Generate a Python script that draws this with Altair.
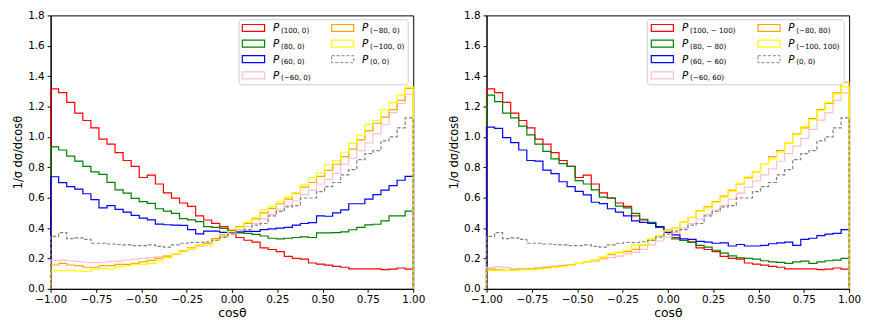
import altair as alt
import pandas as pd
import numpy as np

# ---------------- data (45 bins on cos(theta) in [-1, 1]) ----------------
NB = 45
edges = np.linspace(-1.0, 1.0, NB + 1)

# left panel
red_L = [1.316,1.292,1.228,1.157,1.108,1.060,0.985,0.953,0.897,0.845,0.806,0.733,0.748,0.690,0.632,
         0.597,0.565,0.543,0.480,0.453,0.431,0.410,0.385,0.338,0.320,0.307,0.270,0.259,0.245,0.214,
         0.201,0.196,0.170,0.163,0.156,0.148,0.142,0.131,0.131,0.132,0.132,0.126,0.130,0.137,0.130]
green_L = [0.935,0.914,0.873,0.841,0.806,0.770,0.753,0.701,0.652,0.630,0.596,0.574,0.563,0.527,0.512,
           0.497,0.462,0.454,0.443,0.410,0.404,0.398,0.383,0.368,0.365,0.359,0.348,0.333,0.329,0.333,
           0.338,0.342,0.338,0.368,0.368,0.370,0.375,0.389,0.404,0.421,0.425,0.447,0.480,0.480,0.512]
blue_L = [0.738,0.699,0.673,0.656,0.626,0.587,0.533,0.548,0.523,0.505,0.484,0.465,0.454,0.426,0.422,
          0.420,0.418,0.390,0.362,0.380,0.380,0.372,0.372,0.375,0.378,0.378,0.390,0.395,0.400,0.405,
          0.420,0.430,0.436,0.480,0.478,0.500,0.520,0.560,0.560,0.590,0.620,0.650,0.680,0.715,0.740]
pink_L = [0.187,0.187,0.185,0.180,0.175,0.172,0.175,0.180,0.182,0.190,0.195,0.200,0.205,0.210,0.215,
          0.230,0.245,0.260,0.280,0.300,0.320,0.340,0.365,0.390,0.410,0.430,0.460,0.490,0.520,
          0.550,0.580,0.620,0.650,0.690,0.720,0.760,0.820,0.860,0.910,0.960,1.020,1.080,1.160,1.220,1.280]
orange_L = [0.157,0.168,0.157,0.153,0.142,0.142,0.153,0.153,0.161,0.161,0.168,0.178,0.187,0.200,0.215,
            0.230,0.250,0.270,0.290,0.300,0.330,0.355,0.380,0.410,0.430,0.460,0.500,0.530,0.560,
            0.590,0.630,0.670,0.700,0.740,0.780,0.820,0.870,0.920,0.980,1.040,1.090,1.130,1.180,1.240,1.320]
yellow_L = [0.120,0.120,0.123,0.118,0.115,0.130,0.135,0.129,0.146,0.153,0.161,0.161,0.168,0.187,0.204,
            0.232,0.243,0.265,0.290,0.286,0.318,0.346,0.376,0.404,0.437,0.469,0.518,0.540,0.576,
            0.604,0.634,0.684,0.731,0.763,0.817,0.845,0.899,0.957,1.011,1.082,1.108,1.178,1.226,1.275,1.329]
gray_00 = [0.345,0.370,0.330,0.335,0.325,0.300,0.300,0.295,0.292,0.290,0.285,0.285,0.290,0.280,0.275,
           0.290,0.300,0.305,0.305,0.310,0.320,0.340,0.360,0.380,0.390,0.420,0.430,0.480,0.510,
           0.540,0.548,0.598,0.598,0.640,0.673,0.700,0.750,0.785,0.850,0.890,0.910,0.974,1.000,1.060,1.125]

# right panel
red_R = list(red_L)
green_R = [1.275,1.232,1.157,1.125,1.071,1.013,0.953,0.905,0.856,0.824,0.806,0.712,0.690,0.652,0.604,
           0.598,0.544,0.533,0.497,0.458,0.437,0.404,0.372,0.329,0.318,0.307,0.286,0.275,0.254,
           0.235,0.217,0.204,0.200,0.196,0.185,0.178,0.174,0.168,0.178,0.183,0.168,0.178,0.185,0.189,0.200]
blue_R = [1.065,1.056,0.996,0.963,0.914,0.845,0.841,0.781,0.759,0.705,0.673,0.641,0.619,0.570,0.561,
          0.527,0.505,0.480,0.447,0.437,0.430,0.410,0.372,0.355,0.329,0.325,0.312,0.308,0.300,
          0.303,0.282,0.292,0.282,0.282,0.286,0.297,0.303,0.308,0.286,0.325,0.333,0.350,0.360,0.365,0.390]
pink_R = [0.140,0.145,0.140,0.131,0.135,0.135,0.140,0.145,0.150,0.155,0.160,0.165,0.175,0.180,0.195,
          0.205,0.215,0.230,0.240,0.260,0.290,0.315,0.340,0.370,0.400,0.430,0.460,0.490,0.520,
          0.550,0.590,0.630,0.670,0.710,0.750,0.790,0.840,0.890,0.940,0.990,1.050,1.110,1.160,1.240,1.290]
orange_R = [0.130,0.125,0.122,0.125,0.128,0.130,0.135,0.140,0.145,0.152,0.160,0.168,0.180,0.190,0.205,
            0.225,0.240,0.245,0.260,0.290,0.320,0.350,0.385,0.400,0.440,0.470,0.515,0.540,0.575,
            0.610,0.650,0.690,0.730,0.770,0.820,0.870,0.910,0.960,1.020,1.060,1.120,1.180,1.220,1.290,1.360]
yellow_R = [0.120,0.120,0.120,0.120,0.125,0.125,0.130,0.135,0.142,0.146,0.157,0.168,0.178,0.189,0.210,
            0.232,0.237,0.254,0.290,0.290,0.329,0.350,0.383,0.398,0.437,0.469,0.512,0.533,0.570,
            0.604,0.641,0.695,0.738,0.770,0.819,0.856,0.899,0.963,1.017,1.071,1.114,1.174,1.228,1.282,1.329]

colors = ["#ff0000", "#008000", "#0000ff", "#ffc0cb", "#ffa500", "#ffff00", "#808080"]
left_subs = ["(100, 0)", "(80, 0)", "(60, 0)", "(\u221260, 0)", "(\u221280, 0)", "(\u2212100, 0)", "(0, 0)"]
right_subs = ["(100, \u2212 100)", "(80, \u2212 80)", "(60, \u2212 60)", "(\u221260, 60)",
              "(\u221280, 80)", "(\u2212100, 100)", "(0, 0)"]
left_series = [red_L, green_L, blue_L, pink_L, orange_L, yellow_L, gray_00]
right_series = [red_R, green_R, blue_R, pink_R, orange_R, yellow_R, gray_00]

x_ticks = [-1.0, -0.75, -0.5, -0.25, 0.0, 0.25, 0.5, 0.75, 1.0]
y_ticks = [0.0, 0.2, 0.4, 0.6, 0.8, 1.0, 1.2, 1.4, 1.6, 1.8]

# ---------------- layout ----------------
W, H = 366, 276
YMAX = 1.8
FONT = "DejaVu Sans"

xscale = alt.Scale(domain=[-1, 1], nice=False, zero=False)
yscale = alt.Scale(domain=[0, YMAX], nice=False, zero=False)
xaxis = alt.Axis(values=x_ticks, format=".2f", title="cos\u03b8", labelFlush=False, labelOverlap=False)
yaxis = alt.Axis(values=y_ticks, format=".1f", title="1/\u03c3 d\u03c3/dcos\u03b8", labelFlush=False,
                 labelOverlap=False)


def X(f):
    return alt.X(f, type="quantitative", scale=xscale, axis=xaxis)


def Y(f):
    return alt.Y(f, type="quantitative", scale=yscale, axis=yaxis)


def px2x(px):
    return -1.0 + 2.0 * px / W


def py2y(py):
    return YMAX * (1.0 - py / H)


def step_df(vals):
    rows = [{"x": float(edges[0]), "y": 0.0, "o": 0}]
    for i, v in enumerate(vals):
        rows.append({"x": float(edges[i]), "y": v, "o": i + 1})
    rows.append({"x": float(edges[-1]), "y": vals[-1], "o": NB + 1})
    rows.append({"x": float(edges[-1]), "y": 0.0, "o": NB + 2})
    return pd.DataFrame(rows)


def panel(series, subs, box_px, h1_px, t1_px, h2_px, t2_px):
    layers = []
    for k, vals in enumerate(series):
        kw = dict(color=colors[k], strokeWidth=1.2, interpolate="step-after")
        if k == 6:
            kw["strokeDash"] = [3.5, 2]
        layers.append(
            alt.Chart(step_df(vals)).mark_line(**kw).encode(x=X("x"), y=Y("y"), order="o:Q")
        )
    # legend (positions given in plot pixels, converted to data units)
    bx0, bx1, by0, by1 = box_px
    box = pd.DataFrame([{"x": px2x(bx0), "x2": px2x(bx1), "y": py2y(by0), "y2": py2y(by1)}])
    layers.append(
        alt.Chart(box).mark_rect(cornerRadius=3, fill="white", fillOpacity=0.85,
                                 stroke="#cccccc", strokeWidth=1)
        .encode(x=X("x"), x2="x2", y=Y("y"), y2="y2")
    )
    row_c = [12.7, 28.5, 44.2, 60.5]
    slots = [(0, 0), (0, 1), (0, 2), (0, 3), (1, 0), (1, 1), (1, 2)]
    hrows, trows = [], []
    for k, (c, r) in enumerate(slots):
        hx = h1_px if c == 0 else h2_px
        tx = t1_px if c == 0 else t2_px
        yc = row_c[r]
        hrows.append({"x": px2x(hx[0]), "x2": px2x(hx[1]), "y": py2y(yc - 3.5), "y2": py2y(yc + 3.5),
                      "color": colors[k], "dash": k == 6})
        trows.append({"x": px2x(tx), "y": py2y(yc + 0.5), "xs": px2x(tx + 8.0), "ys": py2y(yc + 3.0),
                      "sub": subs[k]})
    hdf = pd.DataFrame(hrows)
    tdf = pd.DataFrame(trows)
    layers.append(
        alt.Chart(hdf[~hdf.dash]).mark_rect(fillOpacity=0, strokeWidth=1.2)
        .encode(x=X("x"), x2="x2", y=Y("y"), y2="y2", stroke=alt.Stroke("color:N", scale=None))
    )
    layers.append(
        alt.Chart(hdf[hdf.dash]).mark_rect(fillOpacity=0, strokeWidth=1.0, stroke=colors[6],
                                            strokeDash=[3, 2])
        .encode(x=X("x"), x2="x2", y=Y("y"), y2="y2")
    )
    layers.append(
        alt.Chart(tdf).mark_text(align="left", baseline="middle", fontSize=10.5, fontStyle="italic",
                                 font=FONT, color="black", text="P")
        .encode(x=X("x"), y=Y("y"))
    )
    layers.append(
        alt.Chart(tdf).mark_text(align="left", baseline="middle", fontSize=7.2, font=FONT, color="black")
        .encode(x=X("xs"), y=Y("ys"), text="sub:N")
    )
    return alt.layer(*layers).properties(width=W, height=H)


left = panel(left_series, left_subs, (190.3, 361.0, 4.4, 70.0), (193.5, 216.0), 224.5,
             (283.6, 306.0), 314.4)
right = panel(right_series, right_subs, (162.3, 361.0, 4.4, 70.0), (166.3, 188.6), 197.3,
              (274.0, 296.3), 304.6)

chart = (
    alt.hconcat(left, right, spacing=74, bounds="flush")
    .properties(padding={"left": 4, "top": 0, "right": 2, "bottom": 0})
    .configure(font=FONT)
    .configure_view(stroke="black", strokeWidth=1)
    .configure_axis(
        grid=False, domainColor="black", domainWidth=1, tickColor="black", tickSize=3.5,
        tickWidth=1, labelColor="black", labelFontSize=10.5, labelFont=FONT,
        titleFont=FONT, titleFontWeight="normal", titleColor="black",
    )
    .configure_axisX(labelPadding=2, titlePadding=2, titleFontSize=12.5)
    .configure_axisY(labelPadding=3, titlePadding=4, titleFontSize=11.5)
)

chart.save("out.html", embed_options={"renderer": "svg", "actions": False})
